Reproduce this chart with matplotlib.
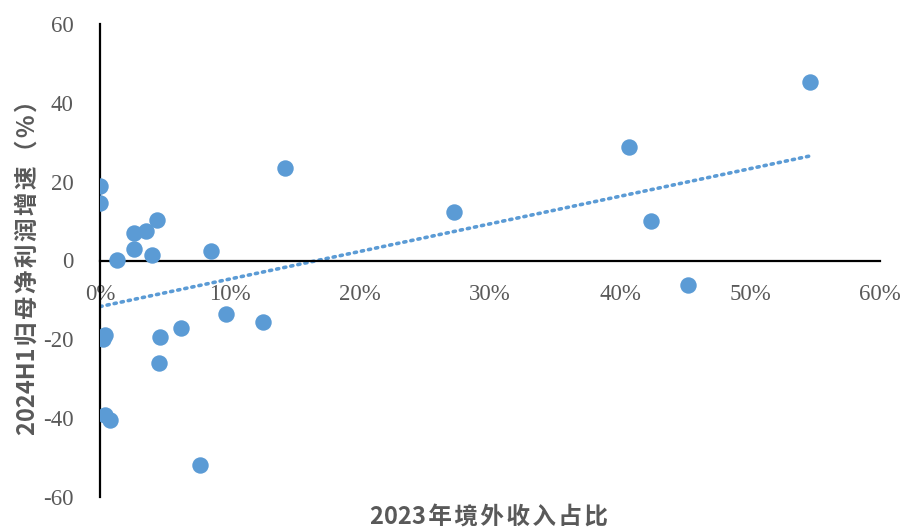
import numpy as np
import matplotlib
matplotlib.use("Agg")
import matplotlib.pyplot as plt
from matplotlib.ticker import FuncFormatter

# Data: 2023 overseas revenue share (fraction), 2024H1 net profit growth (%)
overseas_share = [0.000, 0.000, 0.013, 0.026, 0.026, 0.035, 0.040, 0.044, 0.085,
                  0.142, 0.272, 0.407, 0.424, 0.452, 0.546,
                  0.004, 0.002, 0.046, 0.045, 0.062, 0.097, 0.125,
                  0.004, 0.008, 0.077]
profit_growth = [18.8, 14.5, 0.2, 7.1, 2.8, 7.6, 1.3, 10.2, 2.5,
                 23.4, 12.2, 28.7, 9.9, -6.1, 45.2,
                 -19.0, -19.8, -19.5, -26.1, -17.0, -13.5, -15.5,
                 -39.3, -40.4, -51.8]
x_ticks = [0, 0.1, 0.2, 0.3, 0.4, 0.5, 0.6]
y_ticks = [-60, -40, -20, 0, 20, 40, 60]
x_label = "2023年境外收入占比"
y_label = "2024H1归母净利润增速（%）"

blue = "#5B9BD5"
gray = "#595959"
serif = ["Liberation Serif", "DejaVu Serif"]
cjk = ["Noto Sans CJK SC", "DejaVu Sans"]


def spaced(text):
    # add a hair space after each character following the leading digits
    out = ""
    for i, ch in enumerate(text):
        out += ch
        if i < len(text) - 1 and (ord(ch) > 127 or ord(text[i + 1]) > 127):
            out += "\u200a"
    return out


fig = plt.figure(figsize=(9, 5.3), dpi=100)
ax = fig.add_axes([100/900, 1-497/530, 780/900, 473/530])

ax.scatter(overseas_share, profit_growth, s=140, color=blue, zorder=3, linewidths=0)

xs = np.array(overseas_share)
ys = np.array(profit_growth)
k, b = np.polyfit(xs, ys, 1)
xl = np.array([0, xs.max()])
ax.plot(xl, k*xl + b, linestyle=(0, (0.6, 1.4)), color=blue, lw=2.6,
        dash_capstyle="round", zorder=2)

ax.set_xlim(0, 0.6)
ax.set_ylim(-60, 60)
ax.set_xticks(x_ticks)
ax.set_yticks(y_ticks)
ax.xaxis.set_major_formatter(FuncFormatter(lambda v, p: f"{v*100:.0f}%"))
ax.yaxis.set_major_formatter(FuncFormatter(lambda v, p: f"{v:.0f}"))

for s in ["top", "right"]:
    ax.spines[s].set_visible(False)
ax.spines["left"].set_position(("data", 0))
ax.spines["bottom"].set_position(("data", 0))
ax.spines["left"].set_linewidth(1.6)
ax.spines["bottom"].set_linewidth(1.6)
ax.spines["left"].set_color("black")
ax.spines["bottom"].set_color("black")
ax.tick_params(axis="both", length=0, labelsize=16.5, labelcolor=gray)
ax.tick_params(axis="x", pad=17)
ax.tick_params(axis="y", pad=19)
for lab in ax.get_xticklabels() + ax.get_yticklabels():
    lab.set_fontfamily(serif)

fig.text(489/900, 1-517/530, spaced(x_label), ha="center", va="center",
         fontsize=17, fontweight="bold", color=gray, family=cjk)
fig.text(28/900, 1-262/530, spaced(y_label), ha="center", va="center", rotation=90,
         fontsize=17, fontweight="bold", color=gray, family=cjk)

fig.savefig("out.png", dpi=100)
